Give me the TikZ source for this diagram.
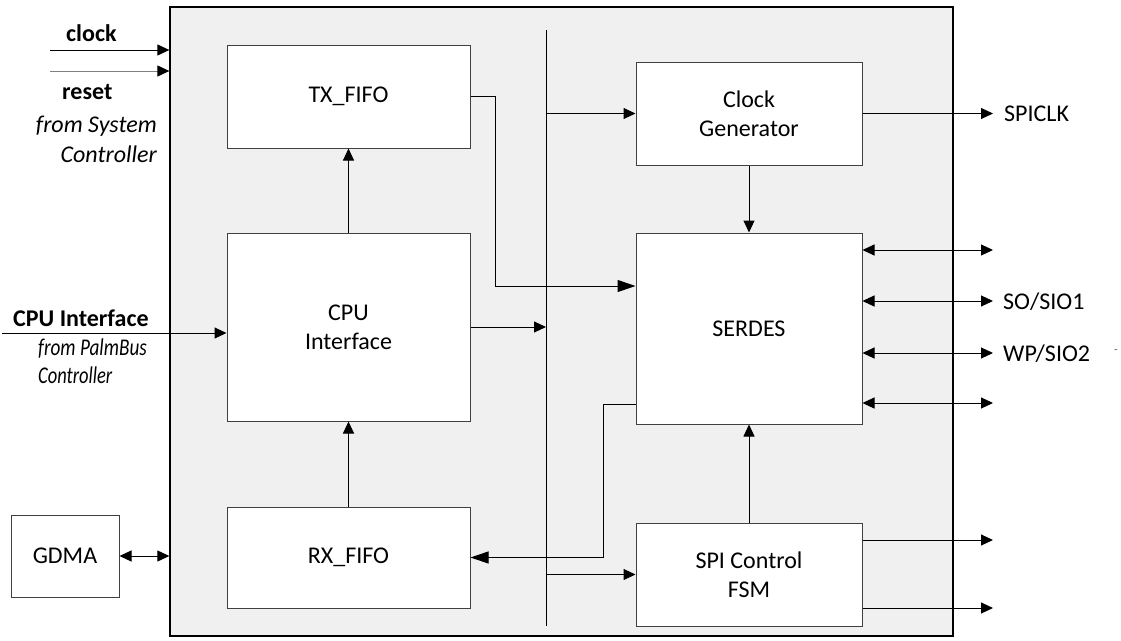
\documentclass[tikz,border=0pt]{standalone}
\usepackage{fontspec}
\usepackage{graphicx}
\setmainfont{Carlito}
\usetikzlibrary{arrows.meta}
\definecolor{panel}{HTML}{F0F0F0}
\newcommand{\fsz}{\fontsize{24}{29}\selectfont}
\begin{document}
\begin{tikzpicture}[x=1pt,y=-1pt,
  txt/.style={font=\fsz, inner sep=0pt, text=black},
  blk/.style={txt, draw=black!75, fill=white, line width=1pt, align=center},
  ln/.style={draw=black, line width=1pt},
  arr/.style={ln, -{Triangle[length=12pt,width=11pt]}},
  arrbig/.style={ln, -{Triangle[length=18pt,width=12pt]}},
  arrboth/.style={ln, {Triangle[length=12pt,width=11pt]}-{Triangle[length=12pt,width=11pt]}}
]
\useasboundingbox (0,0) rectangle (1121,640);
% main panel
\node[draw=black, line width=1.3pt, fill=panel, minimum width=783pt, minimum height=629pt, inner sep=0pt] (main) at (561.5,321.5) {};
% blocks
\node[blk, minimum width=243pt, minimum height=103pt] (tx) at (348.5,96.5) {TX\_FIFO};
\node[blk, minimum width=243pt, minimum height=188pt] (cpu) at (348.5,327) {CPU\\Interface};
\node[blk, minimum width=243pt, minimum height=101pt] (rx) at (348.5,557.5) {RX\_FIFO};
\node[blk, minimum width=226pt, minimum height=103pt] (clkgen) at (749,113.5) {Clock\\Generator};
\node[blk, minimum width=226pt, minimum height=191pt] (serdes) at (749,328.5) {SERDES};
\node[blk, minimum width=226pt, minimum height=103pt] (fsm) at (749,574.5) {SPI Control\\FSM};
\node[blk, minimum width=108pt, minimum height=82pt] (gdma) at (65,556) {GDMA};
% bus
\coordinate (bustop) at (546,30);
\coordinate (busbot) at (546,626);
\draw[ln] (bustop) -- (busbot);
% left inputs
\coordinate (clkin) at (50,50);
\coordinate (rstin) at (50,71);
\coordinate (cpuin) at (2,333);
\draw[arr] (clkin) -- (clkin -| main.west);
\draw[ln, draw=black!50, -{Triangle[length=12pt,width=11pt,color=black]}] (rstin) -- (rstin -| main.west);
\draw[arr] (cpuin) -- (cpuin -| cpu.west);
\draw[arrboth] (gdma.east) -- (gdma.east -| main.west);
% left labels
\node[txt, font=\fsz\bfseries, anchor=base west] (lclock) at (66,41) {clock};
\node[txt, font=\fsz\bfseries, anchor=base west] (lreset) at (62,99) {reset};
\node[txt, font=\fsz\itshape, anchor=base east] (lsys) at (157,132) {from System};
\node[txt, font=\fsz\itshape, anchor=base east] (lsysc) at (157,162) {Controller};
\node[txt, font=\fsz\bfseries, anchor=base west] (lcpu) at (13,326) {CPU Interface};
\node[txt, font=\fsz\itshape, anchor=base west] (lpalm) at (38,355) {\scalebox{0.8}[1]{from PalmBus}};
\node[txt, font=\fsz\itshape, anchor=base west] (lpalmc) at (38,383) {\scalebox{0.77}[1]{Controller}};
% internal connectors
\draw[arr] (cpu.north) -- (tx.south);
\draw[arr] (rx.north) -- (cpu.south);
\draw[arr] (cpu.east) -- (cpu.east -| bustop);
\coordinate (txbend) at (495,286);
\draw[arrbig] (tx.east) -| (txbend) -- (txbend -| serdes.west);
\draw[arr] (clkgen.west -| bustop) -- (clkgen.west);
\draw[arr] (clkgen.south) -- (serdes.north);
\draw[arr] (fsm.north) -- (serdes.south);
\coordinate (sbend) at (603,404);
\draw[arrbig] (sbend -| serdes.west) -- (sbend) |- (rx.east);
\draw[arr] (fsm.west -| bustop) -- (fsm.west);
% right outputs
\coordinate (oclk) at (993,113.5);
\coordinate (o1) at (993,250);
\coordinate (o2) at (993,301);
\coordinate (o3) at (993,353);
\coordinate (o4) at (993,403);
\coordinate (o5) at (993,540);
\coordinate (o6) at (993,608);
\draw[arr] (clkgen.east) -- (oclk);
\draw[arrboth] (o1 -| serdes.east) -- (o1);
\draw[arrboth] (o2 -| serdes.east) -- (o2);
\draw[arrboth] (o3 -| serdes.east) -- (o3);
\draw[arrboth] (o4 -| serdes.east) -- (o4);
\draw[arr] (o5 -| fsm.east) -- (o5);
\draw[arr] (o6 -| fsm.east) -- (o6);
\node[txt, anchor=base west] (lspiclk) at (1004,121) {SPICLK};
\node[txt, anchor=base west] (lso) at (1003,309) {SO/SIO1};
\node[txt, anchor=base west] (lwp) at (1003,361) {WP/SIO2};
\node[txt, font=\fontsize{12}{12}\selectfont, text=black!60] (ldash) at (1116,352) {-};
\end{tikzpicture}
\end{document}
